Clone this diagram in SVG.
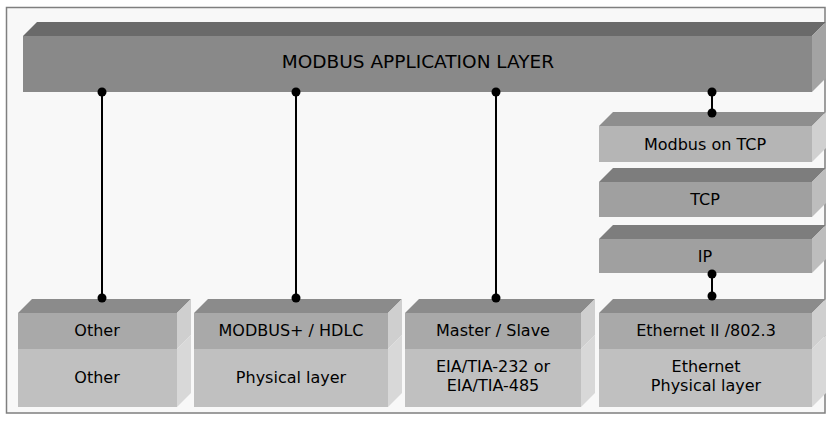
<svg xmlns="http://www.w3.org/2000/svg" width="838" height="421" viewBox="0 0 838 421">
<style>
text{font-family:"DejaVu Sans","Liberation Sans",sans-serif;font-size:16px;fill:#000;text-anchor:middle}
.c{stroke:#000;stroke-width:2;fill:none}
.d{fill:#000}
.bt{fill:#8b8b8b}.bu{fill:#a9a9a9}.bl{fill:#c0c0c0}.br{fill:#cfcfcf}.brl{fill:#d8d8d8}
</style>
<rect x="6.5" y="7.5" width="818.5" height="405.5" fill="#f8f8f8" stroke="#7f7f7f" stroke-width="1.5"/>
<g id="app">
<polygon points="23,36 37,22 826,22 812,36" fill="#6a6a6a"/>
<polygon points="812,36 826,22 826,78 812,92" fill="#a3a3a3"/>
<rect x="23" y="36" width="789" height="56" fill="#898989"/>
<text x="418" y="68" style="font-size:18.5px">MODBUS APPLICATION LAYER</text>
</g>
<g id="mbtcp">
<polygon points="599,126 613,112 826,112 812,126" fill="#8e8e8e"/>
<polygon points="812,126 826,112 826,148 812,162" fill="#d0d0d0"/>
<rect x="599" y="126" width="213" height="36" fill="#b5b5b5"/>
<text x="705" y="150">Modbus on TCP</text>
</g>
<g id="tcp">
<polygon points="599,182 613,168 826,168 812,182" fill="#7d7d7d"/>
<polygon points="812,182 826,168 826,203 812,217" fill="#bdbdbd"/>
<rect x="599" y="182" width="213" height="35" fill="#a0a0a0"/>
<text x="705" y="205">TCP</text>
</g>
<g id="ip">
<polygon points="599,239 613,225 826,225 812,239" fill="#7d7d7d"/>
<polygon points="812,239 826,225 826,259 812,273" fill="#bdbdbd"/>
<rect x="599" y="239" width="213" height="34" fill="#a0a0a0"/>
<text x="705" y="262">IP</text>
</g>
<g id="other">
<polygon class="bt" points="18,313 32,299 191,299 177,313"/>
<polygon class="br" points="177,313 191,299 191,335 177,349"/>
<polygon class="brl" points="177,349 191,335 191,393 177,407"/>
<rect class="bu" x="18" y="313" width="159" height="36"/>
<rect class="bl" x="18" y="349" width="159" height="58"/>
<text x="97" y="336">Other</text>
<text x="97" y="383">Other</text>
</g>
<g id="hdlc">
<polygon class="bt" points="194,313 208,299 402,299 388,313"/>
<polygon class="br" points="388,313 402,299 402,335 388,349"/>
<polygon class="brl" points="388,349 402,335 402,393 388,407"/>
<rect class="bu" x="194" y="313" width="194" height="36"/>
<rect class="bl" x="194" y="349" width="194" height="58"/>
<text x="291" y="336">MODBUS+ / HDLC</text>
<text x="291" y="383">Physical layer</text>
</g>
<g id="serial">
<polygon class="bt" points="405,313 419,299 595,299 581,313"/>
<polygon class="br" points="581,313 595,299 595,335 581,349"/>
<polygon class="brl" points="581,349 595,335 595,393 581,407"/>
<rect class="bu" x="405" y="313" width="176" height="36"/>
<rect class="bl" x="405" y="349" width="176" height="58"/>
<text x="493" y="336">Master / Slave</text>
<text x="493" y="372">EIA/TIA-232 or</text>
<text x="493" y="391">EIA/TIA-485</text>
</g>
<g id="ethernet">
<polygon class="bt" points="599,313 613,299 826,299 812,313"/>
<polygon class="br" points="812,313 826,299 826,335 812,349"/>
<polygon class="brl" points="812,349 826,335 826,393 812,407"/>
<rect class="bu" x="599" y="313" width="213" height="36"/>
<rect class="bl" x="599" y="349" width="213" height="58"/>
<text x="706" y="336">Ethernet II /802.3</text>
<text x="706" y="372">Ethernet</text>
<text x="706" y="391">Physical layer</text>
</g>
<g id="connectors">
<line class="c" x1="102" y1="92" x2="102" y2="298"/>
<line class="c" x1="296" y1="92" x2="296" y2="298"/>
<line class="c" x1="496" y1="92" x2="496" y2="298"/>
<line class="c" x1="712" y1="92" x2="712" y2="112"/>
<line class="c" x1="712" y1="273" x2="712" y2="297"/>
<circle class="d" cx="102" cy="92" r="4.5"/><circle class="d" cx="102" cy="298" r="4.5"/>
<circle class="d" cx="296" cy="92" r="4.5"/><circle class="d" cx="296" cy="298" r="4.5"/>
<circle class="d" cx="496" cy="92" r="4.5"/><circle class="d" cx="496" cy="298" r="4.5"/>
<circle class="d" cx="712" cy="92" r="4.5"/><circle class="d" cx="712" cy="113" r="4.5"/>
<circle class="d" cx="712" cy="274" r="4.5"/><circle class="d" cx="712" cy="296" r="4.5"/>
</g>
</svg>
